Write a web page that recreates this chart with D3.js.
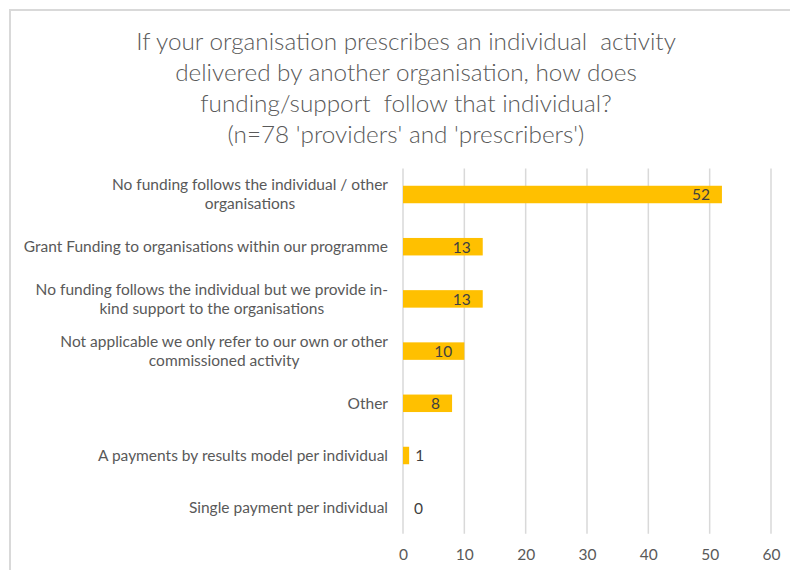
<!DOCTYPE html>
<html>
<head>
<meta charset="utf-8">
<script src="https://cdn.jsdelivr.net/npm/d3@7"></script>
<style>
  html, body { margin: 0; padding: 0; background: #ffffff; }
  svg { display: block; font-family: Lato, "Open Sans", sans-serif; }
</style>
</head>
<body>
<svg id="chart" width="790" height="570"></svg>
<script>
// Survey responses: how funding follows an individual who is prescribed an activity
const categories = [
  ["No funding follows the individual / other", "organisations"],
  ["Grant Funding to organisations within our programme"],
  ["No funding follows the individual but we provide in-", "kind support to the organisations"],
  ["Not applicable we only refer to our own or other", "commissioned activity"],
  ["Other"],
  ["A payments by results model per individual"],
  ["Single payment per individual"]
];
const counts = [52, 13, 13, 10, 8, 1, 0];
const xTicks = [0, 10, 20, 30, 40, 50, 60];
const titleLines = [
  "If your organisation prescribes an individual  activity",
  "delivered by another organisation, how does",
  "funding/support  follow that individual?",
  "(n=78 'providers' and 'prescribers')"
];

const svg = d3.select("#chart");
const W = 790, H = 570;

// Frame of the chart area
svg.append("path")
  .attr("d", `M10,${H + 2} L10,10 L${W + 2},10`)
  .attr("fill", "none")
  .attr("stroke", "#d9d9d9")
  .attr("stroke-width", 2);

// Title
svg.append("g")
  .selectAll("text")
  .data(titleLines)
  .join("text")
  .attr("x", 406)
  .attr("y", (d, i) => 50 + i * 31)
  .attr("text-anchor", "middle")
  .attr("fill", "#595959")
  .attr("font-size", 24.3)
  .attr("font-weight", 300)
  .attr("xml:space", "preserve")
  .style("white-space", "pre")
  .text(d => d);

const x = d3.scaleLinear().domain([0, 60]).range([403, 771]);
const y = d3.scaleBand()
  .domain(d3.range(categories.length))
  .range([168.4, 533.8])
  .paddingInner(0.665)
  .paddingOuter(0.3325);

// Vertical gridlines
svg.append("g")
  .selectAll("line")
  .data(xTicks)
  .join("line")
  .attr("x1", d => x(d)).attr("x2", d => x(d))
  .attr("y1", 168.4).attr("y2", 533.8)
  .attr("stroke", "#d9d9d9")
  .attr("stroke-width", 1.5);

// Value axis labels
const xAxis = d3.axisBottom(x).tickValues(xTicks).tickSize(0).tickPadding(0);
const xg = svg.append("g").attr("transform", "translate(0,548)").call(xAxis);
xg.select(".domain").remove();
xg.selectAll("text")
  .attr("dy", "0.75em")
  .attr("fill", "#595959")
  .attr("font-size", 15.5)
  .attr("font-family", "Lato, 'Open Sans', sans-serif");

// Bars
svg.append("g")
  .selectAll("rect")
  .data(counts)
  .join("rect")
  .attr("x", x(0))
  .attr("y", (d, i) => y(i))
  .attr("width", d => x(d) - x(0))
  .attr("height", y.bandwidth())
  .attr("fill", "#ffc000");

// Value labels: inside the bar end when there is room, otherwise just outside
svg.append("g")
  .selectAll("text")
  .data(counts)
  .join("text")
  .attr("x", d => (x(d) - x(0) > 30) ? x(d) - 12 : Math.max(x(d) + 6, x(0) + 11))
  .attr("y", (d, i) => y(i) + y.bandwidth() / 2)
  .attr("dy", "0.38em")
  .attr("text-anchor", d => (x(d) - x(0) > 30) ? "end" : "start")
  .attr("fill", "#404040")
  .attr("font-size", 15.5)
  .text(d => d);

// Category labels, right-aligned as a block, each line centred within it
const labelRight = 388;
const lineH = 19;
const labels = svg.append("g").attr("fill", "#595959").attr("font-size", 15.5);
categories.forEach((lines, i) => {
  const cy = y(i) + y.bandwidth() / 2;
  const g = labels.append("g");
  const texts = g.selectAll("text")
    .data(lines)
    .join("text")
    .attr("y", (d, j) => cy + (j - (lines.length - 1) / 2) * lineH)
    .attr("dy", "0.35em")
    .attr("text-anchor", "middle")
    .text(d => d);
  const widths = [];
  texts.each(function () { widths.push(this.getComputedTextLength()); });
  const blockW = d3.max(widths);
  texts.attr("x", labelRight - blockW / 2);
});
</script>
</body>
</html>
